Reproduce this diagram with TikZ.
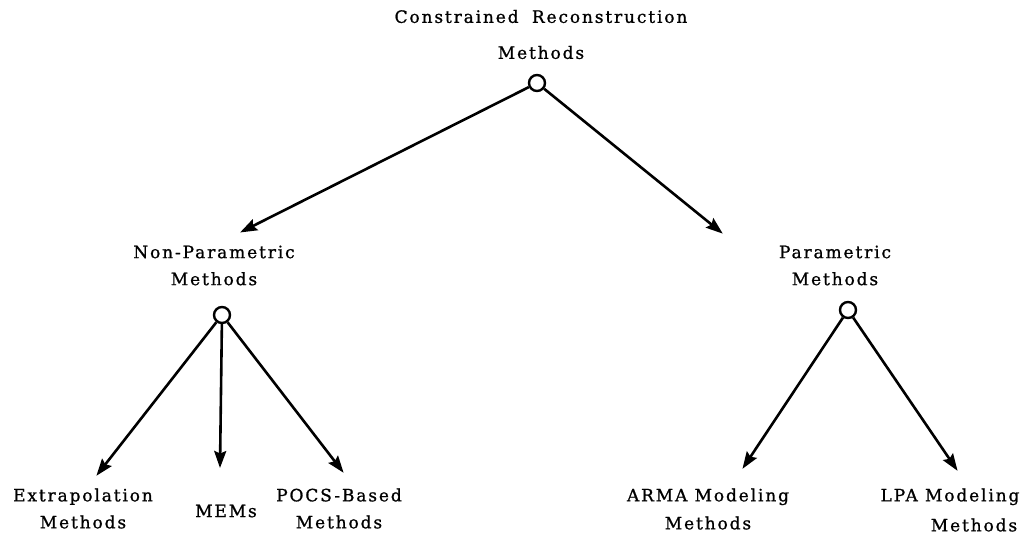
\documentclass[tikz,border=0pt]{standalone}
\usepackage{fontspec}
\setmainfont{DejaVu Serif}[LetterSpace=11,FakeBold=1]
\usetikzlibrary{arrows.meta}
\tikzset{
  dot/.style={circle,draw,line width=2.4pt,minimum size=16pt,inner sep=0pt,fill=white},
  lbl/.style={align=center,inner sep=0pt,font=\fontsize{17}{27}\selectfont},
  conn/.style={line width=2.6pt,-{Stealth[length=17pt,width=12pt,inset=2.5pt]},shorten >=-1pt}
}
\begin{document}
\begin{tikzpicture}[x=1pt,y=-1pt]
\useasboundingbox (0,0) rectangle (1032,535);
% labels
\node[lbl] (top) at (541,34.5) {Constrained\hspace{6pt} Reconstruction\\[9pt]Methods};
\node[lbl] (np) at (214,265.5) {Non-Parametric\\Methods};
\node[lbl] (pm) at (835,265.5) {Parametric\\Methods};
\node[lbl] (ex) at (83,508.5) {Extrapolation\\Methods};
\node[lbl] (mem) at (226,511) {MEMs};
\node[lbl] (pocs) at (339,508.5) {POCS-Based\\Methods};
\node[lbl] (arma) at (708,509) {ARMA Modeling\\[1pt]Methods};
\node[lbl] (lpa) at (962,510) {LPA Modeling\hspace*{24pt}\\[3pt]\hspace*{24pt}Methods};
% branch points
\node[dot] (c0) at (537,83) {};
\node[dot] (c1) at (222,315) {};
\node[dot] (c2) at (848,310) {};
% arrow tips
\coordinate (t1) at (241,232);
\coordinate (t2) at (722,233);
\coordinate (t3) at (97,475);
\coordinate (t4) at (220,467);
\coordinate (t5) at (343,472);
\coordinate (t6) at (743,468);
\coordinate (t7) at (957,470);
% connectors
\draw[conn] (c0) -- (t1);
\draw[conn] (c0) -- (t2);
\draw[conn] (c1) -- (t3);
\draw[conn] (c1) -- (t4);
\draw[conn] (c1) -- (t5);
\draw[conn] (c2) -- (t6);
\draw[conn] (c2) -- (t7);
\end{tikzpicture}
\end{document}
